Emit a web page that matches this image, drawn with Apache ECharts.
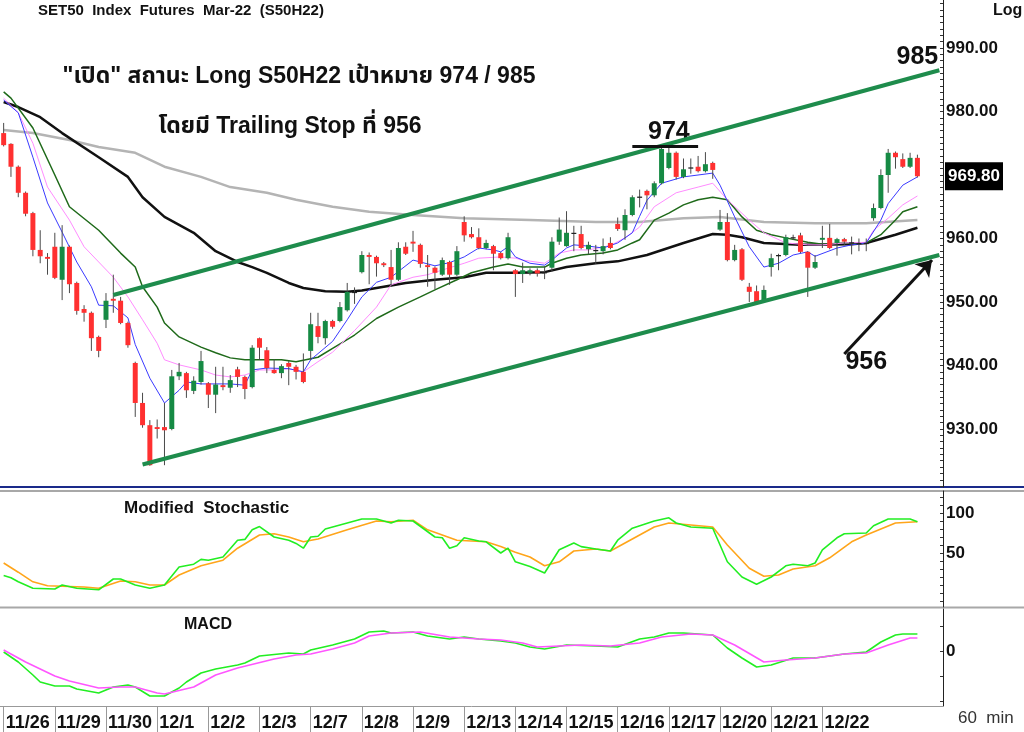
<!DOCTYPE html>
<html>
	<head>
		<meta charset="UTF-8">
		<title>SET50 Index Futures Mar-22 (S50H22)</title>
		<script src="https://cdn.jsdelivr.net/npm/echarts@6/dist/echarts.min.js"></script>
		<style>
			html, body { margin: 0; padding: 0; background: #fff; }
			#chart { width: 1024px; height: 732px; }
		</style>
	</head>
	<body>
		<div id="chart"></div>
		<script type="text/javascript">
			// 交易日 / 每日7根60分钟K线
			var days = ['11/26', '11/29', '11/30', '12/1', '12/2', '12/3', '12/7', '12/8', '12/9',
				'12/13', '12/14', '12/15', '12/16', '12/17', '12/20', '12/21', '12/22', '12/23'];
			var labelledDays = days.slice(0, 17);
			var hours = ['10:00', '11:00', '12:00', '14:15', '15:00', '16:00', '16:45'];
			var padBars = ['p1', 'p2', 'p3'];

			var opens = [976.6, 974.9, 971.3, 967.2, 964.0, 958.2, 957.1,
				958.7, 953.5, 958.7, 953.0, 948.9, 948.3, 944.5,
				947.2, 950.5, 950.2, 946.7, 940.4, 934.1, 930.6,
				930.3, 930.3, 930.0, 938.3, 938.8, 936.0, 937.4,
				937.2, 935.4, 936.9, 936.5, 939.4, 938.2, 936.6,
				944.3, 942.4, 939.3, 938.8, 940.4, 939.8, 939.0,
				942.3, 946.2, 944.3, 947.0, 947.0, 948.7, 951.6,
				954.7, 957.4, 957.1, 956.1, 955.5, 953.5, 958.7,
				959.5, 959.0, 955.8, 955.4, 954.3, 956.3, 954.3,
				962.6, 960.7, 960.2, 958.5, 958.8, 957.7, 956.9,
				955.0, 954.4, 954.6, 955.0, 954.6, 955.4, 959.5,
				958.8, 960.9, 960.7, 958.3, 958.2, 958.0, 959.3,
				962.3, 961.3, 963.7, 966.6, 967.5, 966.8, 968.7,
				971.1, 973.5, 969.7, 971.0, 971.3, 970.6, 971.9,
				961.4, 962.6, 956.6, 958.3, 952.4, 951.7, 950.3,
				955.5, 957.2, 957.4, 960.2, 960.5, 957.9, 955.4,
				959.8, 960.1, 959.3, 959.9, 959.4, 959.3, 959.2,
				963.2, 964.8, 970.0, 973.5, 972.5, 971.3, 972.7];
			var closes = [974.7, 971.3, 967.2, 963.9, 958.2, 957.2, 956.8,
				953.8, 958.7, 952.8, 948.6, 948.3, 944.3, 942.3,
				950.2, 950.2, 946.7, 943.2, 934.1, 930.6, 924.3,
				930.0, 929.8, 938.3, 939.0, 936.1, 937.6, 940.7,
				935.4, 937.0, 936.6, 937.7, 938.2, 936.3, 942.8,
				942.8, 939.6, 938.8, 939.9, 939.8, 939.0, 937.4,
				946.5, 944.5, 947.0, 946.1, 949.2, 951.6, 951.4,
				957.4, 957.1, 956.1, 955.8, 953.5, 958.5, 957.6,
				959.2, 956.0, 955.5, 954.6, 956.6, 954.3, 958.0,
				960.5, 960.2, 958.5, 959.3, 957.6, 956.9, 960.2,
				954.4, 955.0, 955.0, 954.5, 954.7, 959.5, 961.4,
				960.9, 960.8, 958.5, 959.0, 958.0, 958.8, 958.5,
				961.5, 963.7, 966.5, 966.4, 966.8, 968.7, 974.1,
				973.5, 969.7, 970.9, 971.2, 970.6, 971.7, 970.8,
				962.6, 956.6, 958.2, 953.5, 951.6, 950.0, 951.9,
				956.9, 957.4, 960.2, 960.1, 957.9, 955.4, 956.3,
				960.1, 958.5, 959.9, 959.5, 959.2, 959.2, 959.3,
				964.8, 970.0, 973.5, 972.8, 971.3, 972.7, 969.8];
			var lows = [974.5, 969.7, 966.5, 963.5, 957.2, 956.1, 954.3,
				953.6, 950.3, 951.4, 948.0, 946.9, 942.3, 941.3,
				945.9, 948.3, 946.5, 942.8, 931.9, 930.2, 924.2,
				928.5, 924.3, 929.8, 937.7, 934.9, 935.5, 937.0,
				933.3, 932.5, 936.1, 935.7, 936.6, 934.7, 936.4,
				940.9, 938.8, 938.7, 938.0, 936.9, 937.8, 937.2,
				940.9, 943.5, 943.3, 945.8, 946.8, 948.5, 949.7,
				954.5, 952.8, 954.0, 955.5, 952.4, 953.3, 957.4,
				957.9, 955.4, 952.4, 952.0, 954.1, 952.7, 954.1,
				959.5, 960.0, 958.3, 958.3, 955.0, 956.7, 956.7,
				950.8, 953.0, 954.2, 954.0, 953.6, 954.8, 959.0,
				958.7, 958.0, 958.3, 957.5, 956.0, 957.5, 958.3,
				961.2, 959.8, 963.5, 964.9, 964.6, 966.5, 968.5,
				970.9, 969.3, 969.5, 970.2, 970.4, 970.4, 969.4,
				961.2, 956.4, 956.4, 953.3, 950.0, 949.8, 950.1,
				954.0, 955.0, 957.2, 959.8, 957.7, 950.8, 955.2,
				958.5, 958.3, 957.3, 959.0, 957.5, 958.0, 958.0,
				962.8, 964.6, 967.2, 971.0, 971.1, 971.1, 969.6];
			var highs = [978.2, 975.0, 971.5, 967.4, 964.2, 961.3, 957.7,
				960.9, 962.1, 958.9, 953.2, 949.5, 948.5, 944.7,
				951.4, 954.3, 950.8, 946.9, 940.6, 935.7, 931.4,
				931.5, 934.1, 939.3, 940.4, 939.0, 938.3, 942.3,
				937.4, 939.8, 939.8, 938.5, 939.8, 938.4, 943.2,
				944.4, 942.9, 941.0, 940.2, 940.7, 940.1, 941.9,
				948.3, 948.3, 947.2, 947.2, 950.0, 953.0, 952.3,
				958.0, 957.8, 957.3, 956.3, 958.2, 959.4, 959.4,
				961.2, 959.2, 957.4, 955.6, 957.0, 956.5, 958.8,
				963.5, 961.8, 961.6, 959.8, 959.0, 957.9, 960.9,
				955.2, 956.2, 955.3, 955.3, 955.6, 960.2, 963.3,
				964.3, 962.0, 962.0, 959.5, 959.0, 960.0, 960.2,
				963.3, 964.6, 966.8, 967.7, 967.7, 969.0, 974.6,
				974.4, 973.7, 972.6, 972.6, 973.0, 973.6, 972.1,
				964.5, 964.0, 959.0, 958.5, 953.0, 952.6, 952.6,
				957.6, 957.6, 960.6, 960.6, 960.9, 958.0, 957.4,
				962.0, 962.3, 960.1, 960.1, 960.3, 960.0, 960.0,
				965.5, 970.9, 974.1, 973.7, 973.4, 973.5, 973.2];
			var lastPrice = 969.8;

			// 均线 [K线序号, 价格]
			var maFast = [[0, 981.8], [2, 979.8], [4, 972.8], [6, 965.6], [8, 961.0], [10, 956.3], [12, 952.4], [13, 949.5],
				[15, 949.4], [17, 947.5], [18, 943.3], [20, 938.0], [22, 934.1], [24, 936.1], [25, 937.4], [27, 937.1],
				[31, 937.1], [33, 936.9], [34, 939.3], [36, 939.6], [39, 939.5], [41, 939.0], [42, 940.9], [45, 943.8],
				[47, 947.2], [49, 950.8], [51, 953.1], [53, 953.9], [56, 956.6], [59, 955.7], [61, 956.2], [63, 957.1],
				[65, 958.5], [67, 958.2], [68, 957.9], [69, 958.7], [70, 957.1], [72, 956.1], [74, 955.8], [75, 956.6],
				[77, 958.5], [78, 959.0], [80, 958.8], [82, 958.5], [84, 959.3], [86, 960.9], [87, 963.5], [88, 966.0],
				[90, 968.7], [93, 969.7], [97, 970.3], [98, 968.4], [100, 963.4], [102, 958.7], [104, 955.5], [106, 956.1],
				[108, 957.4], [110, 957.9], [111, 957.2], [114, 958.5], [116, 959.0], [118, 959.3], [120, 962.9],
				[121, 965.5], [123, 968.4], [125, 969.7]];
			var maMid = [[0, 982.1], [2, 979.8], [4, 975.0], [6, 968.1], [9, 962.9], [11, 958.7], [13, 956.3], [15, 953.9],
				[17, 950.8], [19, 947.2], [21, 943.5], [22, 940.9], [24, 940.1], [27, 939.3], [29, 938.5], [31, 938.2],
				[33, 938.5], [35, 939.3], [37, 939.3], [39, 939.5], [41, 939.0], [43, 940.6], [45, 942.1], [48, 945.5],
				[51, 949.2], [53, 952.7], [56, 953.9], [58, 954.3], [61, 955.4], [63, 956.1], [65, 956.9], [68, 957.1],
				[70, 956.9], [71, 956.6], [74, 956.1], [76, 957.7], [78, 958.2], [80, 958.2], [83, 958.9], [85, 960.1],
				[87, 961.8], [89, 965.0], [92, 967.2], [95, 968.1], [97, 968.7], [99, 966.1], [102, 962.9], [104, 960.9],
				[107, 959.3], [110, 959.0], [112, 959.0], [115, 959.3], [118, 959.4], [119, 961.3], [121, 963.2],
				[123, 965.3], [125, 966.7]];
			var maSlow = [[0, 983.1], [1, 982.1], [4, 977.4], [7, 970.0], [9, 965.0], [13, 961.3], [16, 957.7], [18, 955.5],
				[19, 952.4], [21, 949.2], [22, 946.7], [24, 944.5], [27, 942.9], [29, 942.0], [31, 941.2], [33, 940.9],
				[36, 940.9], [38, 940.9], [40, 940.6], [43, 941.3], [45, 942.7], [48, 944.8], [51, 947.4], [54, 949.2],
				[57, 950.8], [59, 951.9], [62, 953.5], [64, 954.6], [67, 955.5], [69, 956.0], [71, 955.5], [74, 955.5],
				[75, 956.1], [77, 956.9], [79, 957.4], [82, 957.7], [84, 958.2], [86, 959.3], [87, 959.8], [89, 962.9],
				[91, 964.0], [93, 965.3], [95, 966.1], [97, 966.5], [99, 966.1], [101, 963.4], [103, 961.3], [105, 960.6],
				[107, 960.1], [110, 959.4], [112, 959.1], [115, 959.3], [118, 959.3], [120, 960.6], [122, 962.9],
				[123, 964.2], [125, 965.0]];
			var maLong = [[0, 981.5], [2, 980.7], [5, 979.1], [8, 976.6], [13, 972.8], [17, 969.7], [19, 966.5], [22, 963.4],
				[26, 960.9], [29, 958.0], [32, 956.3], [34, 955.5], [36, 954.6], [39, 953.0], [41, 952.2], [44, 951.7],
				[47, 951.6], [49, 951.8], [52, 952.4], [55, 953.0], [59, 953.5], [63, 953.9], [66, 954.6], [70, 954.6],
				[74, 954.7], [77, 955.5], [81, 956.1], [84, 956.4], [88, 957.4], [93, 959.3], [97, 960.7], [99, 960.6],
				[101, 960.2], [104, 959.3], [109, 959.0], [116, 959.1], [118, 959.3], [122, 960.6], [125, 961.7]];
			var maTrend = [[0, 977.1], [4, 976.6], [9, 975.5], [13, 974.4], [18, 973.5], [22, 971.3], [27, 969.7], [31, 968.1],
				[36, 967.2], [40, 966.1], [45, 965.0], [50, 964.2], [56, 963.7], [63, 963.2], [72, 962.9], [81, 962.6],
				[87, 962.6], [93, 963.2], [98, 963.4], [104, 962.6], [111, 962.4], [118, 962.4], [125, 962.9]];

			// 通道线 / 目标价
			var upperChannel = [[15, 951.1], [128, 986.5]];
			var lowerChannel = [[19, 924.4], [128, 957.4]];
			var highMark = [[86, 974.5], [95, 974.5]];
			var stopArrow = [[115, 941.8], [127, 956.6]];
			var targetTexts = ['974', '985', '956'];
			var targetAnchors = [[91, 976.8], [125, 988.6], [118, 940.6]];

			// Modified Stochastic
			var stochK = [[0, 22], [1, 19], [2, 14], [4, 6], [7, 5], [8, 10], [10, 6], [13, 4], [15, 17.5], [16, 17.5],
				[18, 10], [20, 6], [22, 10], [24, 32.5], [26, 36], [27, 42], [28, 41], [30, 45], [32, 66], [33, 67],
				[34, 79], [35, 83], [37, 70], [39, 66], [40, 62], [41, 56], [42, 70], [43, 71], [44, 80], [47, 87.5],
				[49, 92.5], [51, 92.5], [53, 87.5], [54, 91], [56, 90], [59, 70], [60, 69], [61, 56], [62, 59], [63, 69],
				[65, 65], [66, 64], [68, 50], [69, 56], [70, 39], [72, 33], [74, 25], [76, 54], [78, 62.5], [79, 58],
				[81, 55], [83, 52.5], [84, 66], [86, 81], [89, 90], [91, 94], [92, 87.5], [94, 82.5], [97, 81], [99, 39],
				[101, 20], [103, 11], [105, 20], [107, 34], [108, 36], [110, 34], [111, 37.5], [112, 54], [114, 69],
				[115, 74], [118, 75], [119, 84], [121, 92.5], [124, 92.5], [125, 89]];
			var stochD = [[0, 37.5], [2, 26], [4, 14], [6, 9], [11, 7.5], [13, 6], [16, 15], [18, 14], [20, 10], [22, 10],
				[24, 22.5], [27, 34], [30, 41], [32, 56], [35, 72.5], [37, 74], [39, 70], [41, 64], [43, 67.5], [47, 79],
				[51, 90], [53, 89], [56, 91], [58, 79], [62, 66], [66, 64], [68, 58], [70, 51], [72, 45], [74, 34],
				[76, 39], [78, 52.5], [81, 55], [83, 52.5], [87, 72.5], [89, 82.5], [91, 87.5], [97, 82.5], [99, 60],
				[102, 31], [104, 21], [106, 22.5], [108, 30], [111, 34], [113, 44], [116, 64], [118, 72.5], [122, 87.5],
				[125, 89]];

			// MACD
			var macdLine = [[0, -0.2], [2, -2.2], [4, -4.8], [5, -6.2], [7, -7], [9, -7], [10, -7.6], [13, -8.4], [15, -7.2],
				[17, -6.8], [18, -7.2], [20, -9], [22, -9], [24, -7.4], [25, -6.2], [27, -4.4], [29, -3.6], [32, -2.8],
				[33, -2.4], [35, -1], [39, -0.4], [41, -0.6], [42, 0.2], [45, 1.2], [48, 2.4], [50, 3.8], [52, 4],
				[53, 3.6], [56, 3.8], [58, 3], [61, 2.4], [63, 2.8], [65, 2.4], [68, 2], [70, 1.6], [72, 0.8], [74, 0.4],
				[77, 1.2], [81, 1], [84, 0.8], [87, 2.4], [89, 2.8], [91, 3.6], [93, 3.6], [97, 3.2], [99, 0.6],
				[101, -1.4], [103, -3.2], [105, -2.8], [108, -1.4], [111, -1.4], [113, -1], [115, -0.6], [118, -0.2],
				[120, 1.8], [122, 3.2], [123, 3.4], [125, 3.4]];
			var macdSignal = [[0, 0.2], [3, -2.2], [7, -5], [9, -6], [13, -7.4], [16, -7.2], [18, -7.2], [21, -8.4],
				[22, -8.6], [26, -7.2], [29, -4.8], [32, -3.4], [37, -1.6], [40, -0.8], [42, -0.6], [45, 0.4], [48, 1.6],
				[50, 3], [53, 3.6], [57, 3.8], [61, 2.8], [65, 2.4], [68, 2.2], [71, 1.6], [73, 0.8], [79, 1.2], [83, 1],
				[87, 1.6], [90, 2.8], [94, 3.4], [97, 3.2], [100, 1.2], [104, -2.2], [107, -1.8], [111, -1.4],
				[115, -0.6], [118, -0.4], [121, 1.2], [124, 2.6], [125, 2.6]];

			// 坐标轴刻度
			var priceTicks = [930, 940, 950, 960, 980, 990];
			var stochTicks = [50, 100];
			var macdTicks = [0];

			var categories = [];
			for (var d = 0; d < days.length; d++) {
				for (var h = 0; h < hours.length; h++) {
					categories.push(days[d] + ' ' + hours[h]);
				}
			}
			categories = categories.concat(padBars);

			var candles = [];
			for (var i = 0; i < opens.length; i++) {
				candles.push([i, opens[i], closes[i], lows[i], highs[i]]);
			}

			var minorPrice = [], minorStoch = [];
			for (var p = 921; p <= 997; p++) minorPrice.push(p);
			for (var s = -10; s <= 120; s += 10) minorStoch.push(s);

			var boldFont = '"Liberation Sans", Arial, sans-serif';
			var thaiFont = '"Liberation Sans", Arial, "Noto Sans Thai", Tahoma, sans-serif';

			function isDayStart(index) {
				if (index % hours.length !== 0 || index >= opens.length) return false;
				return labelledDays.indexOf(days[index / hours.length]) >= 0;
			}

			function renderCandle(params, api) {
				var x = api.value(0);
				var open = api.value(1), close = api.value(2);
				var top = api.coord([x, Math.max(open, close)]);
				var bottom = api.coord([x, Math.min(open, close)]);
				var hi = api.coord([x, api.value(4)]);
				var lo = api.coord([x, api.value(3)]);
				var w = api.size([1, 0])[0] * 0.68;
				var fill = Math.abs(close - open) < 0.25 ? '#222' : (close > open ? '#168a44' : '#ff3030');
				return {
					type: 'group',
					children: [{
						type: 'line',
						shape: { x1: hi[0], y1: hi[1], x2: lo[0], y2: lo[1] },
						style: { stroke: '#4a4a4a', lineWidth: 1 }
					}, {
						type: 'rect',
						shape: { x: top[0] - w / 2, y: top[1], width: w, height: Math.max(bottom[1] - top[1], 1.2) },
						style: { fill: fill }
					}]
				};
			}

			function maSeries(data, color, width) {
				return {
					type: 'line', xAxisIndex: 0, yAxisIndex: 0, data: data, showSymbol: false, silent: true,
					lineStyle: { color: color, width: width }, z: 3
				};
			}

			var hiddenX = {
				type: 'category', data: categories, boundaryGap: true,
				axisLine: { show: false }, axisTick: { show: false }, axisLabel: { show: false }
			};
			var rightY = {
				position: 'right', splitLine: { show: false },
				axisLine: { show: true, lineStyle: { color: '#222' } },
				axisLabel: { color: '#111', fontWeight: 'bold', fontSize: 17, fontFamily: boldFont, margin: 3 }
			};

			var myChart = echarts.init(document.getElementById('chart'), null, { renderer: 'canvas' });

			var option = {
				animation: false,
				backgroundColor: '#fff',
				grid: [
					{ left: 0, right: 81, top: 0, height: 487, outerBoundsMode: 'none' },
					{ left: 0, right: 81, top: 491, height: 116, outerBoundsMode: 'none' },
					{ left: 0, right: 81, top: 609, height: 97, outerBoundsMode: 'none' }
				],
				xAxis: [
					echarts.util.merge({ gridIndex: 0 }, hiddenX, true),
					echarts.util.merge({ gridIndex: 1 }, hiddenX, true),
					{
						gridIndex: 2, type: 'category', data: categories, boundaryGap: true,
						axisLine: { show: true, onZero: false, lineStyle: { color: '#999', width: 1 } },
						axisTick: { show: true, interval: isDayStart, alignWithLabel: true, length: 26, lineStyle: { color: '#999' } },
						axisLabel: {
							interval: isDayStart, align: 'left', margin: 8, padding: [0, 0, 0, 2],
							color: '#111', fontWeight: 'bold', fontSize: 18, fontFamily: boldFont,
							formatter: function (v) { return v.split(' ')[0]; }
						}
					}
				],
				yAxis: [
					echarts.util.merge({
						gridIndex: 0, type: 'value', min: 920.866, max: 997.559,
						axisTick: { show: true, inside: true, length: 3, customValues: minorPrice, lineStyle: { color: '#333' } },
						axisLabel: { customValues: priceTicks, formatter: function (v) { return v.toFixed(2); } }
					}, rightY, false),
					echarts.util.merge({
						gridIndex: 1, type: 'value', min: -17.5, max: 127.5,
						axisTick: { show: true, inside: true, length: 3, customValues: minorStoch, lineStyle: { color: '#333' } },
						axisLabel: { customValues: stochTicks }
					}, rightY, false),
					echarts.util.merge({
						gridIndex: 2, type: 'value', min: -11, max: 8.4,
						axisTick: { show: true, inside: true, length: 3, customValues: [-10, -5, 0, 5], lineStyle: { color: '#333' } },
						axisLabel: { customValues: macdTicks }
					}, rightY, false)
				],
				series: [
					maSeries(maTrend, '#b4b4b4', 2.5),
					maSeries(maLong, '#111', 2.5),
					{
						type: 'custom', xAxisIndex: 0, yAxisIndex: 0, data: candles, renderItem: renderCandle,
						encode: { x: 0, y: [1, 2, 3, 4] }, z: 4, silent: true
					},
					maSeries(maSlow, '#1f6a1a', 1.5),
					maSeries(maMid, '#ff8cff', 1),
					maSeries(maFast, '#3a3aff', 1),
					{
						type: 'line', xAxisIndex: 0, yAxisIndex: 0, data: upperChannel, showSymbol: false, silent: true,
						lineStyle: { color: '#1e8c4c', width: 4 }, z: 6,
						markPoint: {
							symbol: 'circle', symbolSize: 0, silent: true,
							label: { show: true, position: 'inside', color: '#111', fontSize: 25, fontWeight: 'bold', fontFamily: boldFont },
							data: targetTexts.map(function (t, k) {
								return { coord: targetAnchors[k], value: t, label: { formatter: t } };
							})
						}
					},
					{
						type: 'line', xAxisIndex: 0, yAxisIndex: 0, data: lowerChannel, showSymbol: false, silent: true,
						lineStyle: { color: '#1e8c4c', width: 4 }, z: 6,
						markLine: {
							silent: true, symbol: ['none', 'arrow'], symbolSize: 15,
							lineStyle: { color: '#111', width: 3, type: 'solid' }, label: { show: false },
							data: [[{ coord: stopArrow[0] }, { coord: stopArrow[1] }]]
						}
					},
					{
						type: 'line', xAxisIndex: 0, yAxisIndex: 0, data: highMark, showSymbol: false, silent: true,
						lineStyle: { color: '#111', width: 3 }, z: 6,
						markLine: {
							silent: true, symbol: 'none',
							lineStyle: { color: 'rgba(0,0,0,0)', width: 0 },
							label: {
								show: true, position: 'end', distance: 2, formatter: lastPrice.toFixed(2),
								color: '#fff', backgroundColor: '#000', padding: [6, 3, 5, 3],
								fontSize: 17, fontWeight: 'bold', fontFamily: boldFont
							},
							data: [{ yAxis: lastPrice }]
						}
					},
					{
						type: 'line', xAxisIndex: 1, yAxisIndex: 1, data: stochD, showSymbol: false, silent: true,
						lineStyle: { color: '#ffa51a', width: 1.6 }
					},
					{
						type: 'line', xAxisIndex: 1, yAxisIndex: 1, data: stochK, showSymbol: false, silent: true,
						lineStyle: { color: '#22ee22', width: 1.6 }
					},
					{
						type: 'line', xAxisIndex: 2, yAxisIndex: 2, data: macdLine, showSymbol: false, silent: true,
						lineStyle: { color: '#22ee22', width: 1.6 }
					},
					{
						type: 'line', xAxisIndex: 2, yAxisIndex: 2, data: macdSignal, showSymbol: false, silent: true,
						lineStyle: { color: '#ff55ff', width: 1.6 }
					}
				],
				graphic: [
					// 面板分隔线
					{ type: 'line', shape: { x1: 0, y1: 487, x2: 1024, y2: 487 }, style: { stroke: '#1a2a8a', lineWidth: 2 }, silent: true },
					{ type: 'line', shape: { x1: 0, y1: 491, x2: 1024, y2: 491 }, style: { stroke: '#a8a8a8', lineWidth: 2 }, silent: true },
					{ type: 'line', shape: { x1: 0, y1: 607.5, x2: 1024, y2: 607.5 }, style: { stroke: '#a8a8a8', lineWidth: 2 }, silent: true },
					{ type: 'text', left: 38, top: 3, silent: true,
						style: { text: 'SET50  Index  Futures  Mar-22  (S50H22)', fill: '#111', font: 'bold 15px ' + boldFont } },
					{ type: 'text', left: 993, top: 3, silent: true,
						style: { text: 'Log', fill: '#111', font: 'bold 16px ' + boldFont } },
					{ type: 'text', x: 299, y: 77, silent: true,
						style: { text: '"เปิด" สถานะ Long S50H22 เป้าหมาย 974 / 985', fill: '#111', font: 'bold 23px ' + thaiFont,
							textAlign: 'center', textVerticalAlign: 'middle' } },
					{ type: 'text', x: 290, y: 127, silent: true,
						style: { text: 'โดยมี Trailing Stop ที่ 956', fill: '#111', font: 'bold 23px ' + thaiFont,
							textAlign: 'center', textVerticalAlign: 'middle' } },
					{ type: 'text', x: 124, y: 508, silent: true,
						style: { text: 'Modified  Stochastic', fill: '#111', font: 'bold 17px ' + boldFont, textVerticalAlign: 'middle' } },
					{ type: 'text', x: 184, y: 625, silent: true,
						style: { text: 'MACD', fill: '#111', font: 'bold 16px ' + boldFont, textVerticalAlign: 'middle' } },
					{ type: 'text', x: 958, y: 718, silent: true,
						style: { text: '60  min', fill: '#333', font: '17px ' + boldFont, textVerticalAlign: 'middle' } }
				]
			};
			myChart.setOption(option);
		</script>
	</body>
</html>
